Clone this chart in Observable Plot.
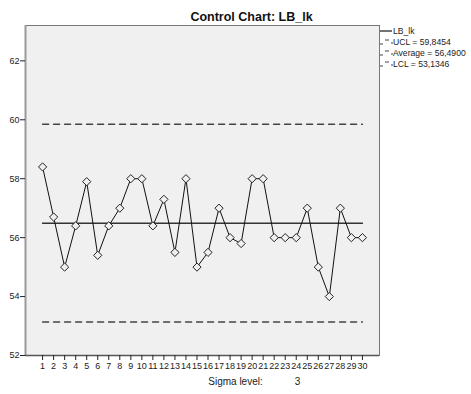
<!DOCTYPE html>
<html><head><meta charset="utf-8">
<script src="https://cdn.jsdelivr.net/npm/d3@7"></script>
<script src="https://cdn.jsdelivr.net/npm/@observablehq/plot@0.6"></script>
<style>
html,body{margin:0;padding:0;background:#fff;}
svg{font-family:Arial,"Liberation Sans",sans-serif;}
</style>
</head><body>
<div id="chart"></div>
<script>
const samples = d3.range(1, 31);
const values = [58.4,56.7,55.0,56.4,57.9,55.4,56.4,57.0,58.0,58.0,56.4,57.3,55.5,58.0,55.0,55.5,57.0,56.0,55.8,58.0,58.0,56.0,56.0,56.0,57.0,55.0,54.0,57.0,56.0,56.0];
const ucl = 59.8454, avg = 56.4900, lcl = 53.1346;
const yTicks = [52,54,56,58,60,62];
const legendLabels = ["LB_lk","UCL = 59,8454","Average = 56,4900","LCL = 53,1346"];
const title = "Control Chart: LB_lk";

const data = samples.map((s,i)=>({s, v: values[i]}));
const limits = [
  {name:"UCL", v:ucl}, {name:"LCL", v:lcl}
];

const plot = Plot.plot({
  width: 471, height: 394,
  marginLeft: 25, marginRight: 92, marginTop: 25, marginBottom: 39,
  style: {fontFamily: "Arial, 'Liberation Sans', sans-serif", fontSize: "9px", background: "#fff", color:"#222"},
  x: {domain: [-0.55, 31.55], ticks: samples, tickFormat: d=>String(d), tickSize: 5, label: null},
  y: {domain: [52, 63.2], ticks: yTicks, tickSize: 5, label: null, tickFormat: d=>String(d)},
  marks: [
    Plot.frame({fill: "#f0f0f0", stroke: "#777", strokeWidth: 1}),
    Plot.ruleX([-0.55], {stroke:"#999", strokeWidth: 2}),
    Plot.ruleY([52], {stroke:"#555", strokeWidth: 1.5}),
    Plot.axisX({ticks: samples, tickSize: 5, tickPadding: 2, fontSize: 9}),
    Plot.axisY({ticks: yTicks, tickSize: 5, tickPadding: 1, fontSize: 9}),
    ...limits.map(l => Plot.lineY([{s:1,v:l.v},{s:30,v:l.v}], {x:"s", y:"v", stroke:"#444", strokeWidth:1.5, strokeDasharray:"6,5"})),
    Plot.lineY([{s:1,v:avg},{s:30,v:avg}], {x:"s", y:"v", stroke:"#333", strokeWidth:1.5}),
    Plot.line(data, {x:"s", y:"v", stroke:"#111", strokeWidth:1}),
    Plot.dot(data, {x:"s", y:"v", symbol:"diamond2", r:3.7, fill:"#f0f0f0", stroke:"#222", strokeWidth:1}),
    Plot.text([title], {frameAnchor:"top", dy:-13, dx:49, fontSize:12.5, fontWeight:"bold", fill:"#111"}),
    Plot.text(["Sigma level:"], {frameAnchor:"bottom", dy:29, dx:33, fontSize:10, fill:"#222"}),
    Plot.text(["3"], {frameAnchor:"bottom", dy:29, dx:95, fontSize:10, fill:"#222"})
  ]
});

// legend
const svg = d3.select(plot);
const lg = svg.append("g").attr("font-size", 8.6).attr("fill", "#222").attr("text-anchor", "start");
legendLabels.forEach((t, i) => {
  const y = 31 + i * 11;
  if (i === 0) {
    lg.append("line").attr("x1", 380).attr("x2", 392).attr("y1", y).attr("y2", y).attr("stroke", "#444").attr("stroke-width", 1.5);
  } else {
    lg.append("path").attr("d", `M380,${y+2}h3M385,${y-2}h4M391,${y+1}h2`).attr("stroke", "#444").attr("stroke-width", 1.2).attr("fill","none");
  }
  lg.append("text").attr("x", 393).attr("y", y + 3).attr("text-anchor", "start").text(t);
});

document.getElementById("chart").appendChild(plot);
</script>
</body></html>
